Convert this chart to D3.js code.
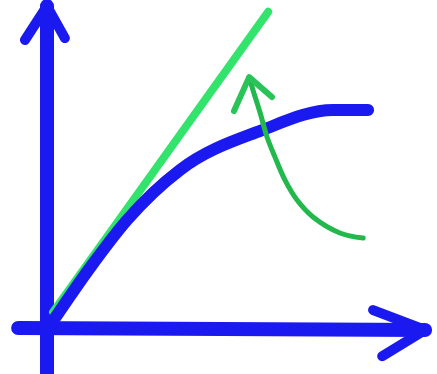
<!DOCTYPE html>
<html>
<head>
<meta charset="utf-8">
<script src="https://cdn.jsdelivr.net/npm/d3@7"></script>
<style>
  html, body { margin: 0; padding: 0; background: #fff; }
  svg { display: block; }
</style>
</head>
<body>
<svg id="chart" width="437" height="374"></svg>
<script>
// sketch data, in chart units (origin at the axes crossing)
var curvePoints = [[2.1, 3.1], [11.3, 18.8], [21.1, 33.8], [35, 49.4],
                   [56.1, 61.6], [75.3, 68.1], [84.5, 68.1]];
var tangentPoints = [[1.6, 5], [58.2, 98.8]];
var pointerPoints = [[83.2, 28.1], [77.1, 29.7], [70, 34.7], [65.8, 40], [62.6, 46.3],
                     [60, 53.4], [57.9, 59.7], [56.1, 67.2], [54.2, 74.4], [53.2, 78.4]];
var pointerHead = [[49.2, 67.8], [53.2, 78.4], [59.2, 72.2]];
var yAxisLine = [[0, -14.4], [0, 100.6]];
var yAxisHead = [[-5.8, 90], [0, 100.6], [4.7, 90.6]];
var xAxisLine = [[-7.6, 0], [99.5, -0.6]];
var xAxisHead = [[85.8, 5.6], [99.5, -0.6], [88.2, -8.8]];

var svg = d3.select('#chart');

var x = d3.scaleLinear().domain([0, 100]).range([47, 427]),
    y = d3.scaleLinear().domain([0, 100]).range([328, 8]);

var straight = d3.line()
    .x(function(d) { return x(d[0]); })
    .y(function(d) { return y(d[1]); });

var smooth = d3.line()
    .x(function(d) { return x(d[0]); })
    .y(function(d) { return y(d[1]); })
    .curve(d3.curveMonotoneX);

var bent = d3.line()
    .x(function(d) { return x(d[0]); })
    .y(function(d) { return y(d[1]); })
    .curve(d3.curveCatmullRom.alpha(0.5));

var draw = function(pts, gen, color, width) {
    svg.append('path')
        .datum(pts)
        .attr('d', gen)
        .attr('fill', 'none')
        .attr('stroke', color)
        .attr('stroke-width', width)
        .attr('stroke-linecap', 'round')
        .attr('stroke-linejoin', 'round');
};

var blue = '#1a1af0';

// axes
draw(yAxisLine, straight, blue, 14);
draw(yAxisHead, straight, blue, 10);
draw(xAxisLine, straight, blue, 14);
draw(xAxisHead, straight, blue, 10);

// tangent line
draw(tangentPoints, straight, '#33e46c', 8);

// curve
draw(curvePoints, smooth, blue, 12);

// pointer arrow
draw(pointerPoints, bent, '#22b84c', 5);
draw(pointerHead, straight, '#28c458', 6);
</script>
</body>
</html>
